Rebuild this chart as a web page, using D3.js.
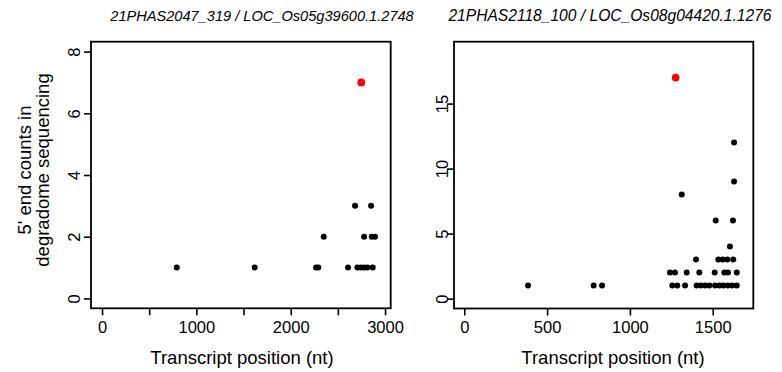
<!DOCTYPE html>
<html><head><meta charset="utf-8">
<script src="https://cdn.jsdelivr.net/npm/d3@7/dist/d3.min.js"></script>
<style>
html,body{margin:0;padding:0;background:#fff;}
svg{display:block;}
text{font-family:"Liberation Sans",Arial,sans-serif;fill:#000;}
</style></head>
<body>
<svg id="chart" width="782" height="372"></svg>
<script>
// ---- data ----
const titles = ["21PHAS2047_319 / LOC_Os05g39600.1.2748", "21PHAS2118_100 / LOC_Os08g04420.1.1276"];
const xLabel = "Transcript position (nt)";
const yLabelLines = ["5' end counts in", "degradome sequencing"];

const p1X = [792,1618,2268,2293,2608,2707,2742,2778,2813,2869, 2350,2778,2859,2894, 2682,2852];
const p1Y = [1,1,1,1,1,1,1,1,1,1, 2,2,2,2, 3,3];
const p1Cleave = {x: 2748, y: 7};
const p1XTicks = [0,500,1000,1500,2000,2500,3000];
const p1XTickLabels = [0,1000,2000,3000];
const p1YTicks = [0,2,4,6,8];

const p2X = [385,781,832,1256,1286,1333,1403,1427,1454,1480,1514,1540,1564,1591,1617,1645,
             1242,1272,1343,1419,1512,1570,1592,1645,
             1399,1534,1560,1588,1624,
             1604, 1518,1622, 1313, 1629, 1629];
const p2Y = [1,1,1,1,1,1,1,1,1,1,1,1,1,1,1,1,
             2,2,2,2,2,2,2,2,
             3,3,3,3,3,
             4, 6,6, 8, 9, 12];
const p2Cleave = {x: 1276, y: 17};
const p2XTicks = [0,500,1000,1500];
const p2XTickLabels = [0,500,1000,1500];
const p2YTicks = [0,5,10,15];

// ---- layout ----
const panels = [
  {xs: p1X, ys: p1Y, red: p1Cleave, xt: p1XTicks, xtl: p1XTickLabels, yt: p1YTicks,
   xDom: [-117, 3060], yDom: [-0.32, 8.32], left: 91, right: 390.7, top: 41.7, bottom: 308.3,
   title: titles[0], titleX: 262, titleSize: 14.6, yLabX: 80, xTitleX: 242},
  {xs: p2X, ys: p2Y, red: p2Cleave, xt: p2XTicks, xtl: p2XTickLabels, yt: p2YTicks,
   xDom: [-62, 1745], yDom: [-0.76, 19.76], left: 454, right: 753.3, top: 41.7, bottom: 308.5,
   title: titles[1], titleX: 610, titleSize: 15.6, yLabX: 448, xTitleX: 613}
];

const svg = d3.select("#chart");

panels.forEach(p => {
  const x = d3.scaleLinear().domain(p.xDom).range([p.left, p.right]);
  const y = d3.scaleLinear().domain(p.yDom).range([p.bottom, p.top]);
  const g = svg.append("g");

  // x axis ticks
  const xa = g.append("g").attr("transform", `translate(0,${p.bottom})`)
    .call(d3.axisBottom(x).tickValues(p.xt).tickSize(7).tickSizeOuter(0)
      .tickFormat(d => p.xtl.includes(d) ? String(d) : ""));
  xa.select(".domain").remove();
  xa.selectAll("line").attr("stroke", "#000").attr("stroke-width", 1.6);
  xa.selectAll("text").attr("y", 13).attr("dy", "0.71em")
    .style("font-size", "16.5px").attr("fill", "#000");

  // y axis ticks
  const ya = g.append("g").attr("transform", `translate(${p.left},0)`)
    .call(d3.axisLeft(y).tickValues(p.yt).tickSize(7).tickSizeOuter(0));
  ya.select(".domain").remove();
  ya.selectAll("line").attr("stroke", "#000").attr("stroke-width", 1.6);
  ya.selectAll("text").attr("dy", null)
    .attr("text-anchor", "middle")
    .attr("transform", `translate(${p.yLabX - p.left},0) rotate(-90)`)
    .attr("x", 0).attr("y", 0)
    .style("font-size", "16.5px").attr("fill", "#000");

  // box
  g.append("rect").attr("x", p.left).attr("y", p.top)
    .attr("width", p.right - p.left).attr("height", p.bottom - p.top)
    .attr("fill", "none").attr("stroke", "#000").attr("stroke-width", 1.8);

  // points
  g.append("g").selectAll("circle").data(p.xs.map((v, i) => [v, p.ys[i]])).join("circle")
    .attr("cx", d => x(d[0])).attr("cy", d => y(d[1])).attr("r", 3).attr("fill", "#000");
  g.append("circle").attr("cx", x(p.red.x)).attr("cy", y(p.red.y)).attr("r", 3.9).attr("fill", "#ff0000");

  // title
  g.append("text").attr("x", p.titleX).attr("y", 21).attr("text-anchor", "middle")
    .style("font-size", p.titleSize + "px").style("font-style", "italic").text(p.title);

  // x title
  g.append("text").attr("x", p.xTitleX).attr("y", 364).attr("text-anchor", "middle")
    .style("font-size", "18.5px").text(xLabel);
});

// y title (left panel only)
yLabelLines.forEach((t, i) => {
  svg.append("text").attr("transform", `translate(${31 + i * 18},170) rotate(-90)`)
    .attr("text-anchor", "middle").style("font-size", "18.5px").text(t);
});
</script>
</body></html>
